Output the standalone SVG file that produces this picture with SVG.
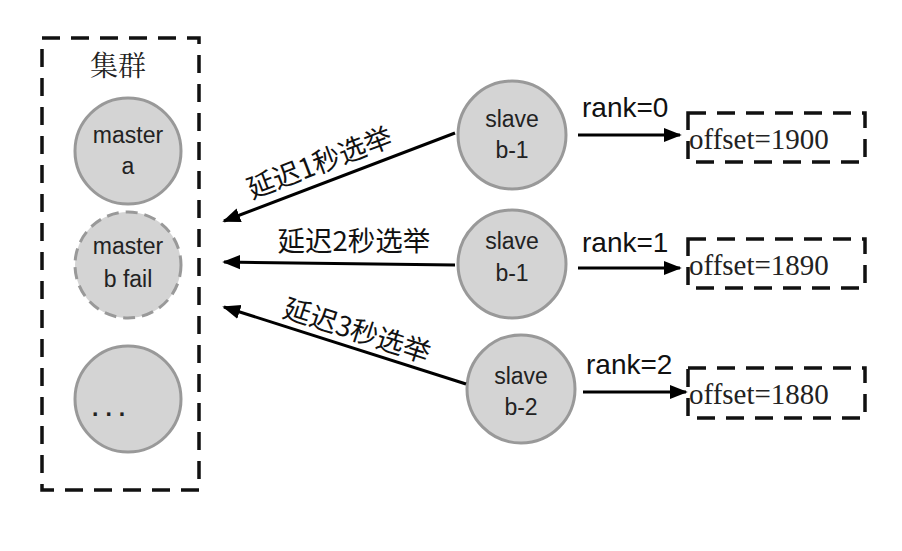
<svg xmlns="http://www.w3.org/2000/svg" width="902" height="551" viewBox="0 0 902 551">
<defs>
<style>
.node{fill:#d4d4d4;stroke:#999;stroke-width:3}
.fail{stroke-dasharray:12,7}
.nt{font-family:"Liberation Sans",Arial,sans-serif;font-size:23px;fill:#222;text-anchor:middle}
.lbl{font-family:"Liberation Sans",Arial,sans-serif;font-size:28px;fill:#111}
.cjk{font-family:"Noto Sans CJK SC","Liberation Sans",sans-serif;font-size:27.5px;fill:#111;text-anchor:middle}
.off{font-family:"Liberation Serif","Times New Roman",serif;font-size:29px;fill:#222}
.box{fill:none;stroke:#111;stroke-width:3.5;stroke-dasharray:18,11}
.edge{stroke:#000;stroke-width:3;fill:none;marker-end:url(#ah)}
</style>
<marker id="ah" viewBox="0 0 10 10" refX="9" refY="5" markerWidth="6" markerHeight="6" markerUnits="strokeWidth" orient="auto">
<path d="M0,1 L10,5 L0,9 Z" fill="#000"/>
</marker>
</defs>
<rect width="902" height="551" fill="#fff"/>
<g id="cluster">
<rect class="box" x="42" y="38" width="157" height="452"/>
<text x="118" y="76" text-anchor="middle" style="font-family:'Noto Serif CJK SC','Noto Sans CJK SC',serif;font-size:28px;fill:#222">集群</text>
</g>
<g id="master-a">
<circle class="node" cx="128" cy="151" r="53"/>
<text class="nt" x="128" y="143">master</text>
<text class="nt" x="128" y="174">a</text>
</g>
<g id="master-b">
<circle class="node fail" cx="128" cy="265" r="53"/>
<text class="nt" x="128" y="254">master</text>
<text class="nt" x="128" y="287">b fail</text>
</g>
<g id="master-more">
<circle class="node" cx="128" cy="399" r="53"/>
<text class="nt" x="92" y="416" style="text-anchor:start;letter-spacing:7px;font-weight:bold">...</text>
</g>
<g id="slave1">
<circle class="node" cx="512" cy="135" r="54"/>
<text class="nt" x="512" y="127">slave</text>
<text class="nt" x="512" y="158">b-1</text>
</g>
<g id="slave2">
<circle class="node" cx="512" cy="264" r="54"/>
<text class="nt" x="512" y="249">slave</text>
<text class="nt" x="512" y="281">b-1</text>
</g>
<g id="slave3">
<circle class="node" cx="521" cy="389" r="54"/>
<text class="nt" x="521" y="384">slave</text>
<text class="nt" x="521" y="415">b-2</text>
</g>
<g id="off1">
<rect class="box" x="688" y="113" width="177" height="49"/>
<text class="off" x="689" y="149">offset=1900</text>
</g>
<g id="off2">
<rect class="box" x="688" y="239" width="177" height="49"/>
<text class="off" x="689" y="275">offset=1890</text>
</g>
<g id="off3">
<rect class="box" x="688" y="368" width="177" height="50"/>
<text class="off" x="689" y="404">offset=1880</text>
</g>
<g id="connectors">
<line class="edge" x1="455" y1="133" x2="224" y2="221"/>
<line class="edge" x1="455" y1="265" x2="224" y2="262"/>
<line class="edge" x1="466" y1="384" x2="224" y2="307"/>
<line class="edge" x1="578" y1="135" x2="680" y2="135"/>
<line class="edge" x1="578" y1="268" x2="680" y2="268"/>
<line class="edge" x1="583" y1="392" x2="686" y2="392"/>
<text class="cjk" transform="translate(323,172) rotate(-21)">延迟1秒选举</text>
<text class="cjk" x="354" y="251">延迟2秒选举</text>
<text class="cjk" transform="translate(354,340) rotate(18)">延迟3秒选举</text>
<text class="lbl" x="582" y="117">rank=0</text>
<text class="lbl" x="582" y="252">rank=1</text>
<text class="lbl" x="586" y="374">rank=2</text>
</g>
</svg>
